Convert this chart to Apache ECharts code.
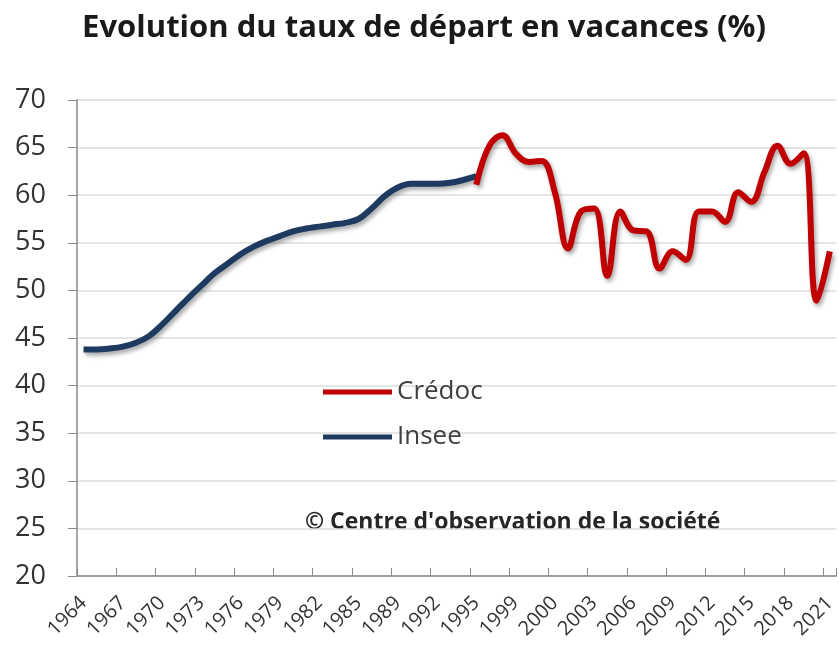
<!DOCTYPE html>
<html>
<head>
<meta charset="utf-8">
<script src="https://cdn.jsdelivr.net/npm/echarts@6/dist/echarts.min.js"></script>
<style>
html,body{margin:0;padding:0;background:#fff;}
#chart{width:839px;height:646px;}
</style>
</head>
<body>
<div id="chart"></div>
<script>
var categories = ['1964','1965','1966','1967','1968','1969','1970','1971','1972','1973',
  '1974','1975','1976','1977','1978','1979','1980','1981','1982','1983',
  '1984','1985','1986','1988','1989','1990','1991','1992','1993','1994',
  '1995','1996','1997','1999','1999b','1999c','2000','2001','2002','2003',
  '2004','2005','2006','2007','2008','2009','2010','2011','2012','2013',
  '2014','2015','2016','2017','2018','2019','2020','2021'];

var inseeValues = [43.8,43.8,43.9,44.1,44.5,45.2,46.4,47.8,49.2,50.5,
  51.8,52.8,53.8,54.6,55.2,55.7,56.2,56.5,56.7,56.9,
  57.1,57.5,58.6,59.9,60.8,61.2,61.2,61.2,61.3,61.6,62.0];

var credocValues = [61.1,65.2,66.3,64.4,63.5,63.6,60.3,54.4,58.3,58.6,
  51.5,58.3,56.3,56.2,52.3,54.1,53.2,58.3,58.3,57.2,
  60.3,59.3,62.4,65.2,63.3,64.4,48.9,54.1];
var credocStart = 30;

var yMin = 20, yMax = 70, yStep = 5;

var inseeData = categories.map(function(c, i){ return i < inseeValues.length ? inseeValues[i] : null; });
var credocData = categories.map(function(c, i){
  var k = i - credocStart;
  return (k >= 0 && k < credocValues.length) ? credocValues[k] : null;
});

var FONT = '"Open Sans", Lato, sans-serif';
var chart = echarts.init(document.getElementById('chart'));
var shadow = {shadowColor:'rgba(0,0,0,0.35)', shadowBlur:4, shadowOffsetX:2, shadowOffsetY:3};

chart.setOption({
  animation: false,
  backgroundColor: '#ffffff',
  title: {
    text: 'Evolution du taux de départ en vacances (%)',
    left: 424, top: 13, textAlign: 'center', padding: 0,
    textStyle: {fontFamily: FONT, fontWeight: 'bold', fontSize: 31, color: '#1a1a1a'}
  },
  legend: {
    data: ['Crédoc', 'Insee'],
    orient: 'vertical', left: 323, top: 377, padding: 0,
    icon: 'rect', itemWidth: 69, itemHeight: 5, itemGap: 15,
    textStyle: {fontFamily: FONT, fontSize: 26, color: '#404040', lineHeight: 30, padding: [0,0,0,0]}
  },
  graphic: [{
    type: 'text', left: 305, top: 511,
    style: {text: '© Centre d\'observation de la société', font: 'bold 23px ' + FONT, fill: '#262626'}
  }],
  grid: {left: 77, right: 2, top: 100, bottom: 70},
  xAxis: {
    type: 'category', data: categories, boundaryGap: true,
    axisLine: {lineStyle: {color: '#888888', width: 1.5}},
    axisTick: {show: true, inside: true, length: 8, interval: 2, lineStyle: {color: '#888888'}},
    axisLabel: {interval: 2, rotate: 45, margin: 24, fontFamily: FONT, fontSize: 20, color: '#333333'},
    splitLine: {show: false}
  },
  yAxis: {
    type: 'value', min: yMin, max: yMax, interval: yStep,
    axisLine: {show: true, lineStyle: {color: '#888888', width: 1.5}},
    axisTick: {show: true, length: 9, lineStyle: {color: '#888888'}},
    axisLabel: {margin: 31, fontFamily: FONT, fontSize: 27, color: '#333333'},
    splitLine: {lineStyle: {color: '#dcdcdc', width: 1.5}}
  },
  series: [
    {
      name: 'Crédoc', type: 'line', data: credocData, smooth: 0.4, showSymbol: false,
      connectNulls: false, color: '#c00000', z: 3,
      lineStyle: Object.assign({color: '#c00000', width: 6}, shadow)
    },
    {
      name: 'Insee', type: 'line', data: inseeData, smooth: 0.4, showSymbol: false,
      connectNulls: false, color: '#1f3a60', z: 2,
      lineStyle: Object.assign({color: '#1f3a60', width: 6}, shadow)
    }
  ]
});
</script>
</body>
</html>
